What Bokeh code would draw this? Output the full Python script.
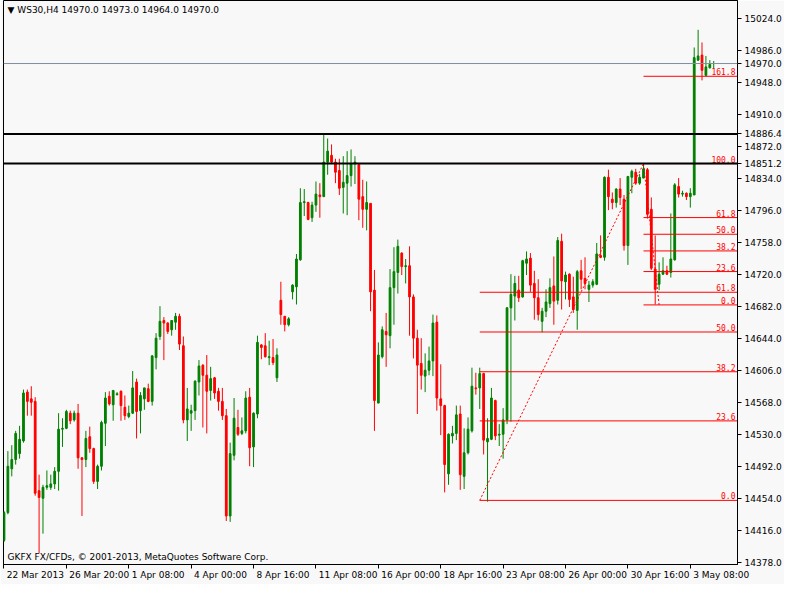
from bokeh.plotting import figure
from bokeh.models import Range1d, LinearAxis, FixedTicker, Span, Label, ColumnDataSource, PrintfTickFormatter
from bokeh.embed import file_html
from bokeh.resources import INLINE

# ---------------- data (WS30, H4) ----------------
opens = [14404,14437,14489,14500,14507,14522,14580,14572,14569,14463,
         14454,14467,14467,14471,14486,14536,14537,14555,14547,14555,
         14502,14500,14527,14513,14474,14492,14543,14575,14565,14577,
         14581,14562,14551,14555,14592,14558,14572,14584,14569,14621,
         14646,14665,14662,14654,14663,14670,14635,14547,14555,14558,
         14592,14612,14600,14582,14597,14581,14569,14552,14433,14505,
         14538,14531,14534,14574,14515,14554,14636,14635,14621,14621,
         14597,14689,14670,14660,14699,14705,14737,14805,14805,14787,
         14802,14814,14812,14853,14861,14853,14843,14823,14828,14837,
         14851,14850,14812,14797,14804,14701,14567,14622,14652,14647,
         14704,14722,14745,14729,14730,14693,14644,14614,14599,14606,
         14617,14663,14572,14564,14483,14528,14531,14554,14480,14508,
         14534,14585,14585,14602,14521,14524,14570,14529,14530,14547,
         14680,14694,14701,14693,14733,14739,14709,14692,14664,14676,
         14685,14706,14689,14759,14711,14720,14693,14677,14724,14715,
         14702,14707,14708,14742,14740,14835,14809,14805,14821,14809,
         14754,14835,14841,14828,14834,14844,14797,14726,14708,14720,
         14724,14722,14737,14824,14815,14816,14812,14814,14974,14980,
         14956,14965,14970]
highs = [14439,14510,14517,14534,14540,14583,14583,14587,14574,14482,
         14470,14487,14482,14491,14555,14549,14559,14558,14558,14566,
         14503,14534,14539,14514,14494,14546,14580,14581,14582,14580,
         14582,14576,14564,14605,14596,14580,14585,14590,14624,14650,
         14682,14669,14663,14665,14674,14673,14646,14585,14565,14594,
         14618,14613,14624,14610,14598,14585,14585,14560,14520,14573,
         14559,14550,14581,14585,14556,14647,14637,14650,14641,14643,
         14632,14711,14670,14669,14708,14744,14822,14821,14806,14806,
         14830,14828,14887,14881,14874,14857,14857,14860,14866,14868,
         14860,14850,14832,14830,14804,14725,14639,14658,14674,14726,
         14752,14761,14746,14738,14753,14696,14654,14644,14626,14634,
         14672,14671,14613,14565,14531,14540,14564,14564,14537,14550,
         14609,14603,14609,14603,14549,14585,14571,14542,14561,14681,
         14720,14718,14718,14737,14747,14745,14724,14714,14680,14702,
         14715,14741,14764,14768,14723,14721,14717,14725,14737,14740,
         14712,14714,14757,14766,14836,14844,14817,14822,14834,14814,
         14836,14844,14845,14839,14851,14846,14811,14766,14734,14740,
         14730,14792,14828,14834,14819,14817,14822,14989,15010,14995,
         14979,14974,14973]
lows = [14402,14435,14480,14494,14501,14520,14552,14552,14457,14389,
        14412,14464,14464,14465,14463,14515,14536,14542,14545,14489,
        14433,14491,14508,14471,14465,14487,14516,14564,14546,14576,
        14546,14547,14549,14554,14525,14531,14559,14568,14564,14607,
        14642,14618,14649,14647,14654,14630,14543,14522,14534,14547,
        14576,14538,14531,14570,14572,14558,14547,14427,14426,14499,
        14528,14529,14531,14492,14491,14549,14619,14621,14612,14612,
        14592,14660,14652,14658,14690,14684,14736,14789,14784,14782,
        14794,14787,14812,14838,14851,14828,14814,14792,14790,14824,
        14827,14784,14775,14772,14676,14534,14567,14620,14610,14632,
        14660,14697,14719,14709,14647,14620,14554,14583,14580,14600,
        14599,14558,14529,14461,14470,14519,14523,14464,14465,14506,
        14532,14577,14560,14506,14450,14523,14523,14516,14501,14542,
        14545,14665,14687,14692,14719,14699,14666,14665,14651,14669,
        14680,14660,14684,14678,14690,14681,14674,14654,14702,14702,
        14687,14704,14707,14739,14736,14796,14797,14799,14802,14748,
        14731,14816,14826,14826,14834,14786,14725,14684,14701,14719,
        14719,14716,14736,14811,14812,14808,14799,14814,14973,14950,
        14955,14964,14964]
closes = [14437,14492,14500,14531,14524,14579,14569,14568,14460,14455,
          14467,14469,14471,14486,14536,14537,14557,14546,14555,14502,
          14500,14525,14513,14474,14492,14544,14573,14566,14582,14578,
          14564,14552,14555,14585,14557,14576,14585,14569,14623,14644,
          14664,14662,14652,14665,14670,14637,14547,14560,14558,14593,
          14611,14600,14581,14596,14579,14569,14552,14433,14507,14549,
          14530,14534,14573,14514,14555,14639,14633,14622,14622,14615,
          14624,14672,14660,14667,14707,14738,14805,14806,14785,14802,
          14815,14812,14853,14866,14853,14841,14822,14829,14837,14851,
          14853,14809,14797,14805,14699,14570,14624,14654,14648,14704,
          14723,14753,14729,14730,14693,14644,14612,14600,14606,14617,
          14662,14573,14564,14494,14530,14531,14553,14482,14508,14536,
          14587,14584,14602,14523,14525,14573,14528,14530,14547,14680,
          14696,14709,14692,14736,14738,14707,14692,14672,14676,14687,
          14704,14688,14760,14712,14719,14690,14678,14723,14714,14709,
          14707,14711,14744,14740,14835,14812,14805,14821,14811,14754,
          14836,14842,14828,14835,14845,14791,14727,14702,14720,14724,
          14720,14738,14826,14815,14816,14812,14816,14977,14979,14962,
          14966,14969,14970]

x_tick_bars = [0, 16, 32, 48, 64, 80, 96, 112, 128, 144, 160, 176]
x_tick_labels = ["22 Mar 2013", "26 Mar 20:00", "1 Apr 08:00", "4 Apr 00:00",
                 "8 Apr 16:00", "11 Apr 08:00", "16 Apr 00:00", "18 Apr 16:00",
                 "23 Apr 08:00", "26 Apr 00:00", "30 Apr 16:00", "3 May 08:00"]
price_ticks = [14378, 14416, 14454, 14492, 14530, 14568, 14606, 14644, 14682,
               14720, 14758, 14796, 14834, 14872, 14910, 14948, 14986, 15024]

hlines = [14886.4, 14851.2]
bid_price = 14970.0

# Fibonacci retracements: (bar of 100% point, bar of 0% point, price of 100%, price of 0%)
fib_big = (164, 122, 14851.2, 14451.5)
fib_small = (164, 168, 14851.2, 14683.5)
fib_big_levels = [0.0, 23.6, 38.2, 50.0, 61.8, 100.0]
fib_small_levels = [0.0, 23.6, 38.2, 50.0, 61.8, 161.8]

header_text = "\u25bc WS30,H4  14970.0 14973.0 14964.0 14970.0"
footer_text = "GKFX FX/CFDs, \u00a9 2001-2013, MetaQuotes Software Corp."

# ---------------- styling ----------------
BG = "#f8f8f8"
UP = "#008000"
DN = "#ff0000"
FONT = "DejaVu Sans"
FS = 9
XMIN, XMAX = -0.125, 188.1
W, H = 784, 584
BORDER_L, AXIS_R = 3, 44

# approximate DejaVu Sans advance widths (em) for placing left-aligned time labels
CW = {" ": 0.318, ":": 0.337, "M": 0.863, "a": 0.613, "r": 0.411, "A": 0.684,
      "p": 0.635, "y": 0.592}
def text_w(s):
    return sum(CW.get(ch, 0.636) for ch in s) * FS

n = len(opens)
xs = list(range(n))
colors = [UP if c >= o else DN for o, c in zip(opens, closes)]
src = ColumnDataSource(dict(
    x=xs, o=opens, h=highs, l=lows, c=closes,
    top=[max(o, c) for o, c in zip(opens, closes)],
    bottom=[min(o, c) for o, c in zip(opens, closes)],
    color=colors))

p = figure(width=W, height=H, output_backend="svg", toolbar_location=None,
           x_range=Range1d(XMIN, XMAX), y_range=Range1d(14375.4, 15044.8),
           x_axis_location=None, y_axis_location=None,
           background_fill_color=BG, border_fill_color=BG,
           min_border_left=BORDER_L, min_border_top=0, min_border_right=0, min_border_bottom=20)
p.grid.visible = False
p.outline_line_color = "black"
p.outline_line_width = 1

# right price axis (regular ticks plus the marked prices)
all_ticks = sorted(price_ticks + [bid_price] + hlines)
yax = LinearAxis(ticker=FixedTicker(ticks=all_ticks),
                 formatter=PrintfTickFormatter(format="%.1f"),
                 major_tick_out=4, major_tick_in=0, minor_tick_out=0, minor_tick_in=0,
                 major_label_text_font=FONT, major_label_text_font_size="%dpx" % FS,
                 major_label_standoff=3, axis_line_color="black",
                 major_tick_line_color="black", major_label_text_color="black")
p.add_layout(yax, "right")

# bottom time axis: tick marks
xax = LinearAxis(ticker=FixedTicker(ticks=x_tick_bars),
                 major_label_overrides={t: "" for t in x_tick_bars},
                 major_tick_out=4, major_tick_in=0, minor_tick_out=0, minor_tick_in=0,
                 axis_line_color="black", major_tick_line_color="black",
                 major_label_text_font_size="1px", major_label_standoff=0)
p.add_layout(xax, "below")

# bottom time axis: labels, left-aligned just right of each tick
ppb = (W - BORDER_L - AXIS_R) / (XMAX - XMIN)
label_pos = [round(t + (text_w(s) / 2 + 3) / ppb, 4) for t, s in zip(x_tick_bars, x_tick_labels)]
xlab = LinearAxis(ticker=FixedTicker(ticks=label_pos),
                  major_label_overrides={pos: s for pos, s in zip(label_pos, x_tick_labels)},
                  major_tick_out=0, major_tick_in=0, minor_tick_out=0, minor_tick_in=0,
                  axis_line_color=None, major_tick_line_color=None,
                  major_label_text_font=FONT, major_label_text_font_size="%dpx" % FS,
                  major_label_text_color="black", major_label_standoff=1)
p.add_layout(xlab, "below")

# candles
p.segment(x0="x", y0="l", x1="x", y1="h", color="color", line_width=1, source=src)
p.vbar(x="x", top="top", bottom="bottom", width=0.45, fill_color="color",
       line_color="color", line_width=1, source=src)

# bid line
p.add_layout(Span(location=bid_price, dimension="width", line_color="#8090a0", line_width=1))

# fibonacci objects
def draw_fib(fib, levels):
    b100, b0, p100, p0 = fib
    start_bar = min(b100, b0)
    for lv in levels:
        price = p0 + (p100 - p0) * lv / 100.0
        p.segment(x0=[start_bar], y0=[price], x1=[XMAX + 5], y1=[price], line_color=DN, line_width=1)
        p.add_layout(Label(x=XMAX, y=price, text="%.1f" % lv, x_offset=-2, y_offset=1,
                           text_align="right", text_baseline="bottom",
                           text_font="DejaVu Sans Mono", text_font_size="8px", text_color=DN))
    p.line(x=[b0, b100], y=[p0, p100], line_color=DN, line_width=1, line_dash="2 2")

draw_fib(fib_big, fib_big_levels)
draw_fib(fib_small, fib_small_levels)

# horizontal black lines
for hl in hlines:
    p.add_layout(Span(location=hl, dimension="width", line_color="black", line_width=2))

# header and footer texts
p.add_layout(Label(x=4, y=H - 20 - 4, x_units="screen", y_units="screen", text=header_text,
                   text_align="left", text_baseline="top", text_font=FONT,
                   text_font_size="%dpx" % FS, text_color="black"))
p.add_layout(Label(x=4, y=3, x_units="screen", y_units="screen", text=footer_text,
                   text_align="left", text_baseline="bottom", text_font=FONT,
                   text_font_size="%dpx" % FS, text_color="black"))

open("out.html", "w").write(file_html(p, INLINE))
